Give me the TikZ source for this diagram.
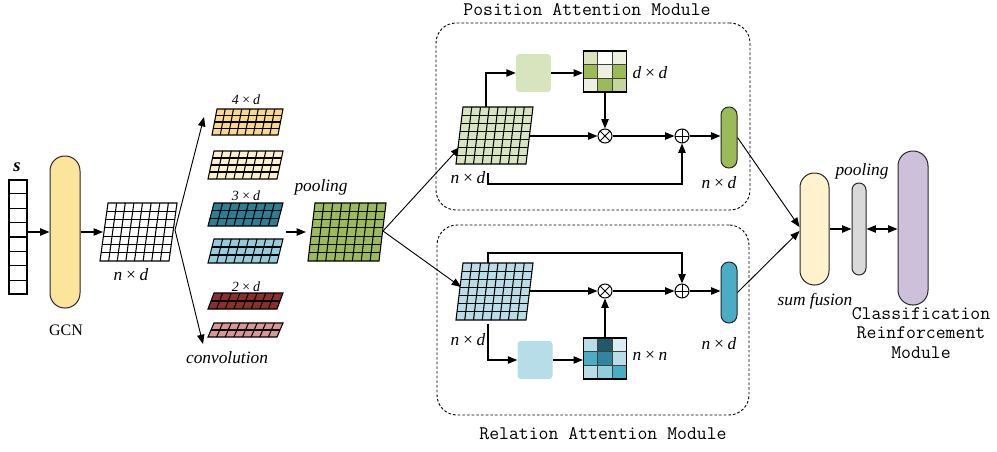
\documentclass[tikz,border=0pt]{standalone}
\usepackage{fontspec}
\setmainfont{Liberation Serif}
\usetikzlibrary{arrows.meta,calc}

\definecolor{colGCN}{HTML}{FDE49B}
\definecolor{colCA}{HTML}{FAD88A}
\definecolor{colCB}{HTML}{FFF0C9}
\definecolor{colCC}{HTML}{2B7E94}
\definecolor{colCD}{HTML}{93CDDD}
\definecolor{colCE}{HTML}{8B2F2C}
\definecolor{colCF}{HTML}{D99694}
\definecolor{colG}{HTML}{9BBB59}
\definecolor{colPG}{HTML}{D7E4BD}
\definecolor{colPL}{HTML}{EBF1DE}
\definecolor{colPM}{HTML}{C3D69B}
\definecolor{colRG}{HTML}{B7DDE8}
\definecolor{colRD}{HTML}{215968}
\definecolor{colRL}{HTML}{DAEEF3}
\definecolor{colRB}{HTML}{4BACC6}
\definecolor{colRM}{HTML}{31859C}
\definecolor{colRC}{HTML}{92CDDC}
\definecolor{colSUM}{HTML}{FFF2CC}
\definecolor{colPOOL}{HTML}{D9D9D9}
\definecolor{colCRM}{HTML}{CCC0DA}

\tikzset{
  gridln/.style={draw=black, line width=0.8pt},
  arr/.style={line width=0.9pt, -{Triangle[length=7pt,width=5.5pt]}},
  ln/.style={line width=0.7pt, -{Triangle[length=7pt,width=5.5pt]}},
  pill/.style 2 args={draw=black!85, line width=0.75pt, inner sep=0pt,
    minimum width=#1*0.75pt, minimum height=#2*0.75pt, rounded corners=#1*0.37pt},
  softbox/.style={rounded corners=2.5pt, inner sep=0pt, minimum width=35*0.75pt, minimum height=38*0.75pt},
  modbox/.style={draw, dash pattern=on 2pt off 1.5pt, line width=0.7pt, rounded corners=15pt, inner sep=0pt},
  opnode/.style={circle, draw, line width=0.75pt, minimum size=14*0.75pt, inner sep=0pt},
  otimesnode/.style={opnode, path picture={
      \draw[line width=0.75pt] (path picture bounding box.north west) -- (path picture bounding box.south east);
      \draw[line width=0.75pt] (path picture bounding box.north east) -- (path picture bounding box.south west);}},
  oplusnode/.style={opnode, path picture={
      \draw[line width=0.75pt] (path picture bounding box.north) -- (path picture bounding box.south);
      \draw[line width=0.75pt] (path picture bounding box.west) -- (path picture bounding box.east);}},
  lbl/.style={font=\fontsize{13}{15}\selectfont\itshape, inner sep=0pt},
  slbl/.style={font=\fontsize{10.5}{12}\selectfont\itshape, inner sep=0pt},
  mono/.style={font=\ttfamily\fontsize{14.4}{14.6}\selectfont, inner sep=0pt},
}

% name, tl x, top y, width, height, skew, cols, rows, fill
\newcommand{\pgridd}[9]{%
  \coordinate (#1-tl) at (#2,#3);
  \coordinate (#1-tr) at ({#2+#4},#3);
  \coordinate (#1-bl) at ({#2+#6},{#3+#5});
  \coordinate (#1-br) at ({#2+#4+#6},{#3+#5});
  \filldraw[fill=#9, gridln] (#1-tl)--(#1-tr)--(#1-br)--(#1-bl)--cycle;
  \pgfmathtruncatemacro\rowsm{#8-1}
  \pgfmathtruncatemacro\colsm{#7-1}
  \foreach \i in {1,...,\rowsm}{
    \draw[gridln] ($(#1-tl)!\i/#8!(#1-bl)$) -- ($(#1-tr)!\i/#8!(#1-br)$);
  }
  \foreach \i in {1,...,\colsm}{
    \draw[gridln] ($(#1-tl)!\i/#7!(#1-tr)$) -- ($(#1-bl)!\i/#7!(#1-br)$);
  }
}

% name, tl x, tl y, colour list
\newcommand{\tmat}[4]{%
  \foreach \c [count=\k from 0] in {#4}{
    \pgfmathtruncatemacro\rr{floor(\k/3)}
    \pgfmathtruncatemacro\cc{mod(\k,3)}
    \fill[\c] ({#2+\cc*43/3},{#3+\rr*41/3}) rectangle ++(43/3,41/3);
  }
  \draw[line width=0.6pt, black!75] ({#2+43/3},#3) -- ++(0,41);
  \draw[line width=0.6pt, black!75] ({#2+86/3},#3) -- ++(0,41);
  \draw[line width=0.6pt, black!75] (#2,{#3+41/3}) -- ++(43,0);
  \draw[line width=0.6pt, black!75] (#2,{#3+82/3}) -- ++(43,0);
  \node[draw, line width=0.9pt, inner sep=0pt, minimum width=43*0.75pt, minimum height=41*0.75pt] (#1) at ({#2+21.5},{#3+20.5}) {};
}

\begin{document}
\begin{tikzpicture}[x=0.75pt,y=-0.75pt]
\useasboundingbox (0,0) rectangle (997,451);

% ---------- module frames ----------
\node[modbox, minimum width=314*0.75pt, minimum height=187*0.75pt] (pam) at (593,116.5) {};
\node[modbox, minimum width=312*0.75pt, minimum height=190*0.75pt] (ram) at (593,320) {};
\node[mono] (pamlbl) at (587,10) {Position Attention Module};
\node[mono] (ramlbl) at (603,434) {Relation Attention Module};

% ---------- input vector s ----------
\node[font=\fontsize{14}{16}\selectfont\bfseries\itshape, inner sep=0pt] (slbl) at (17,167) {s};
\node[draw, line width=0.8pt, inner sep=0pt, minimum width=18*0.75pt, minimum height=114*0.75pt] (svec) at (18,237) {};
\foreach \i in {1,...,7}{
  \draw[line width=0.8pt] ($(svec.north west)!\i/8!(svec.south west)$) -- ($(svec.north east)!\i/8!(svec.south east)$);
}

% ---------- GCN ----------
\node[pill={30}{152}, fill=colGCN] (gcn) at (65,232) {};
\node[font=\fontsize{12}{14}\selectfont, inner sep=0pt] (gcnlbl) at (66,330) {GCN};
\draw[arr] (svec.east |- gcn.west) -- (gcn.west);

% ---------- n x d grid ----------
\pgridd{ng}{108}{203}{69}{58}{-8}{8}{7}{white}
\node[lbl] (nglbl) at (131,275) {n\,×\,d};
\coordinate (ngl) at (103,232);
\draw[arr] (gcn.east) -- (ngl);

% ---------- convolution grids ----------
\pgridd{ca}{217}{109}{66}{26}{-5}{8}{4}{colCA}
\pgridd{cb}{214}{151}{69}{28}{-6}{8}{4}{colCB}
\pgridd{cc}{214}{203}{69}{23}{-6}{8}{3}{colCC}
\pgridd{cd}{214}{239}{69}{24}{-6}{8}{3}{colCD}
\pgridd{ce}{214}{293}{69}{16}{-6}{8}{2}{colCE}
\pgridd{cf}{214}{323}{69}{14}{-6}{8}{2}{colCF}
\node[slbl] (l4d) at (246,100) {4\,×\,d};
\node[slbl] (l3d) at (246,196) {3\,×\,d};
\node[slbl] (l2d) at (246,287) {2\,×\,d};
\node[lbl] (convlbl) at (227,358) {convolution};

\coordinate (ngr) at (175,230);
\coordinate (cup) at (204,117);
\coordinate (cdn) at (203,344);
\draw[ln] (ngr) -- (cup);
\draw[ln] (ngr) -- (cdn);

\coordinate (cva) at (286,232);
\coordinate (cvb) at (306,232);
\draw[arr] (cva) -- (cvb);

% ---------- pooled grid ----------
\node[lbl] (poollbl) at (321,187) {pooling};
\pgridd{gg}{315}{203}{71}{58}{-7}{8}{7}{colG}
\coordinate (ggr) at (383,231);
\coordinate (pgl) at (460,147);
\coordinate (rgl) at (461,287);
\draw[ln] (ggr) -- (pgl);
\draw[ln] (ggr) -- (rgl);

% ---------- Position attention ----------
\pgridd{pg}{463}{107}{70}{57}{-7}{8}{7}{colPG}
\node[lbl] (pglbl) at (468,178) {n\,×\,d};
\node[softbox, fill=colPG] (pbox) at (533.5,73) {};
\tmat{pm}{583.5}{51}{colPG,white,colPL,colG,colPL,colG,colPL,colG,colPM}
\node[lbl] (pmlbl) at (650,73) {d\,×\,d};
\node[otimesnode] (pot) at (605,136) {};
\node[oplusnode] (pop) at (682,136) {};
\node[pill={16}{61}, fill=colG] (pout) at (729,137.5) {};
\node[lbl] (poutlbl) at (719,183) {n\,×\,d};

\coordinate (pgup) at (486,107);
\draw[arr] (pgup) |- (pbox.west);
\draw[arr] (pbox.east) -- (pbox.east -| pm.west);
\draw[arr] (pm.south) -- (pot.north);
\coordinate (pgr) at (530,136);
\draw[arr] (pgr) -- (pot.west);
\draw[arr] (pot.east) -- (pop.west);
\coordinate (pgb) at (488,173);
\draw[arr] (pgb) -- ++(0,11) -| (pop.south);
\draw[arr] (pop.east) -- (pop.east -| pout.west);

% ---------- Relation attention ----------
\pgridd{rg}{463}{263}{70}{57}{-7}{8}{7}{colRG}
\node[lbl] (rglbl) at (468,340) {n\,×\,d};
\node[softbox, fill=colRG] (rbox) at (535,360) {};
\tmat{rm}{583.5}{338}{colRG,colRD,colRL,colRB,colRM,colRG,colRG,colRC,colRB}
\node[lbl] (rmlbl) at (650,356) {n\,×\,n};
\node[otimesnode] (rot) at (605,291) {};
\node[oplusnode] (rop) at (682,291) {};
\node[pill={16}{61}, fill=colRB] (rout) at (729,292.5) {};
\node[lbl] (routlbl) at (719,344) {n\,×\,d};

\coordinate (rgt) at (488,263);
\draw[arr] (rgt) -- ++(0,-10) -| (rop.north);
\coordinate (rgr) at (530,291);
\draw[arr] (rgr) -- (rot.west);
\draw[arr] (rot.east) -- (rop.west);
\coordinate (rgb) at (488,324);
\draw[arr] (rgb) |- (rbox.west);
\draw[arr] (rbox.east) -- (rbox.east -| rm.west);
\draw[arr] (rm.north) -- (rot.south);
\draw[arr] (rop.east) -- (rop.east -| rout.west);

% ---------- fusion & classification ----------
\node[pill={29}{112}, fill=colSUM] (sum) at (814.5,229) {};
\node[lbl] (sumlbl) at (815,301) {sum fusion};
\node[pill={14}{92}, fill=colPOOL] (pool) at (859,229) {};
\node[lbl] (pool2lbl) at (862,171) {pooling};
\node[pill={30}{154}, fill=colCRM] (crm) at (913,228) {};
\node[mono, align=center] (crmlbl) at (921,333) {Classification\\Reinforcement\\Module};

\draw[ln] (pout.east) -- ([yshift=1.5pt]sum.west);
\draw[ln] (rout.east) -- ([yshift=-1.5pt]sum.west);
\draw[arr] (sum.east) -- (sum.east -| pool.west);
\draw[line width=0.9pt, {Triangle[length=7pt,width=5.5pt]}-{Triangle[length=7pt,width=5.5pt]}] (pool.east) -- (pool.east -| crm.west);

\end{tikzpicture}
\end{document}
